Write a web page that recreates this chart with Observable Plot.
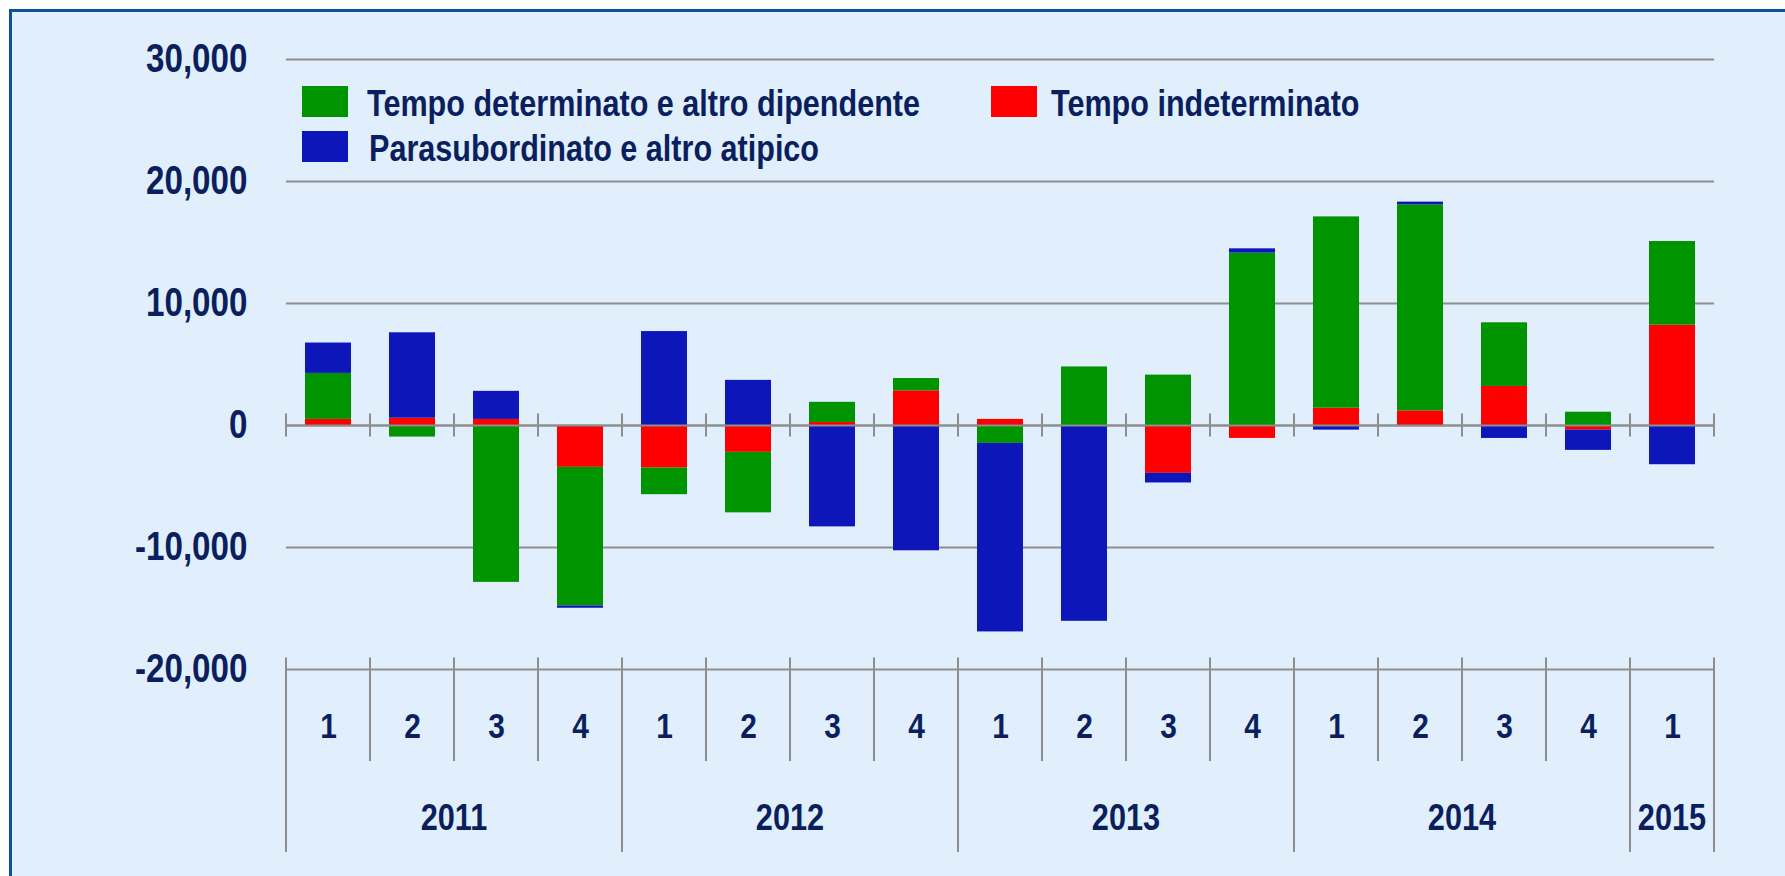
<!DOCTYPE html>
<html>
<head>
<meta charset="utf-8">
<script src="https://cdn.jsdelivr.net/npm/d3@7"></script>
<script src="https://cdn.jsdelivr.net/npm/@observablehq/plot@0.6"></script>
<style>
  html, body { margin: 0; padding: 0; background: #ffffff; width: 1785px; height: 876px; overflow: hidden; }
  #frame { position: absolute; left: 9px; top: 9px; width: 1800px; height: 900px; background: #e1effc;
           border-left: 3px solid #0b5297; border-top: 3px solid #0b5297; }
  #chart { position: absolute; left: 0; top: 0; }
  .lg { position: absolute; font-family: 'Liberation Sans', Arial, sans-serif;
        font-weight: bold; font-size: 37.5px; color: #0b1f5e; white-space: nowrap; line-height: 1;
        transform: scaleX(0.815); transform-origin: 0 0; }
  .sw { position: absolute; width: 46px; height: 31px; }
</style>
</head>
<body>
<div id="frame"></div>
<div id="chart"></div>
<div id="legend"></div>
<script>
const years    = ["2011","2011","2011","2011","2012","2012","2012","2012","2013","2013","2013","2013","2014","2014","2014","2014","2015"];
const quarters = ["1","2","3","4","1","2","3","4","1","2","3","4","1","2","3","4","1"];
const seriesNames = ["Tempo indeterminato", "Tempo determinato e altro dipendente", "Parasubordinato e altro atipico"];
const seriesColors = ["#ff0000", "#009400", "#0c16b9"];
const indeterminato   = [500, 600, 500, -3430, -3490, -2200, 250, 2840, 500, 0, -3920, -1060, 1420, 1200, 3200, -380, 8220];
const determinato     = [3770, -950, -12860, -11360, -2180, -4960, 1650, 1010, -1470, 4800, 4130, 14130, 15680, 16890, 5220, 1090, 6860];
const parasubordinato = [2490, 7000, 2300, -190, 7700, 3700, -8310, -10270, -15450, -16050, -790, 350, -380, 220, -1060, -1660, -3215];
const yTicks = [-20000, -10000, 0, 10000, 20000, 30000];
const legendOrder = [1, 0, 2];

const keys = years.map((y, i) => y + "-" + quarters[i]);
const valuesBySeries = [indeterminato, determinato, parasubordinato];
const data = [];
keys.forEach((k, i) => {
  seriesNames.forEach((s, j) => data.push({key: k, series: s, value: valuesBySeries[j][i]}));
});

const FONT = "'Liberation Sans', Arial, sans-serif";
const TEXT = "#0b1f5e";
const GRID = "#8e8e8e";
const NARROW = 0.83;

const plot = Plot.plot({
  width: 1785, height: 876,
  marginLeft: 286, marginRight: 71, marginTop: 59, marginBottom: 207,
  style: {background: "transparent", fontFamily: FONT, fontWeight: "bold", color: TEXT},
  x: {domain: keys, paddingInner: 0.45, paddingOuter: 0.225, axis: null},
  y: {domain: [-20000, 30000], axis: null},
  color: {domain: seriesNames, range: seriesColors},
  marks: [
    Plot.ruleY(yTicks, {stroke: GRID, strokeWidth: 2.2}),
    Plot.barY(data, {x: "key", y: "value", fill: "series"}),
    Plot.ruleY([0], {stroke: GRID, strokeWidth: 2.2}),
    Plot.axisY(yTicks, {tickSize: 0, tickPadding: 39, fontSize: 40, fill: TEXT,
      tickFormat: d => d3.format(",")(d).replace("\u2212", "-"), label: null}),
    Plot.axisX({tickSize: 0, tickPadding: 43, fontSize: 36, fill: TEXT,
      tickFormat: k => quarters[keys.indexOf(k)], label: null})
  ]
});
document.getElementById("chart").appendChild(plot);

// hierarchical axis separators and year labels, positioned from the plot's own scales
const xs = plot.scale("x"), ys = plot.scale("y");
const step = (xs.range[1] - xs.range[0]) / keys.length;
const bounds = keys.map(k => xs.apply(k) + xs.bandwidth / 2 - step / 2);
bounds.push(bounds[bounds.length - 1] + step);
const svg = d3.select(plot);
const g = svg.append("g").attr("stroke", GRID).attr("stroke-width", 2);
const y0 = ys.apply(0), yb = ys.apply(-20000);
bounds.forEach((bx, i) => {
  g.append("line").attr("x1", bx).attr("x2", bx).attr("y1", y0 - 11.5).attr("y2", y0 + 11.5);
  const isYear = i === 0 || i === keys.length || years[i] !== years[i - 1];
  g.append("line").attr("x1", bx).attr("x2", bx).attr("y1", yb - 11.5).attr("y2", isYear ? 852 : 761);
});
const uniqYears = [...new Set(years)];
uniqYears.forEach(yr => {
  const idx = years.map((y, i) => y === yr ? i : -1).filter(i => i >= 0);
  const cx = (bounds[idx[0]] + bounds[idx[idx.length - 1] + 1]) / 2;
  svg.append("text").attr("x", cx).attr("y", 830).attr("text-anchor", "middle")
    .attr("font-size", 37).attr("font-weight", "bold").attr("font-family", FONT).attr("fill", TEXT).text(yr);
});

// narrow all SVG text horizontally (condensed look) around its own anchor point
svg.selectAll("text").each(function() {
  const bb = this.getBBox();
  const anchor = getComputedStyle(this).textAnchor;
  const ax = anchor === "end" ? bb.x + bb.width : anchor === "middle" ? bb.x + bb.width / 2 : bb.x;
  const t = this.getAttribute("transform") || "";
  this.setAttribute("transform", `${t} translate(${ax},0) scale(${NARROW},1) translate(${-ax},0)`);
});

// legend
const legendPos = [[302, 86], [991, 86], [302, 131]];
const legend = document.getElementById("legend");
legendOrder.forEach((si, n) => {
  const [lx, ly] = legendPos[n];
  const sw = document.createElement("div");
  sw.className = "sw"; sw.style.left = lx + "px"; sw.style.top = ly + "px"; sw.style.background = seriesColors[si];
  legend.appendChild(sw);
  const t = document.createElement("div");
  t.className = "lg"; t.textContent = seriesNames[si];
  t.style.left = (lx + (n === 1 ? 60 : 65 + (n === 2 ? 2 : 0))) + "px"; t.style.top = (ly - 1) + "px";
  legend.appendChild(t);
});
</script>
</body>
</html>
